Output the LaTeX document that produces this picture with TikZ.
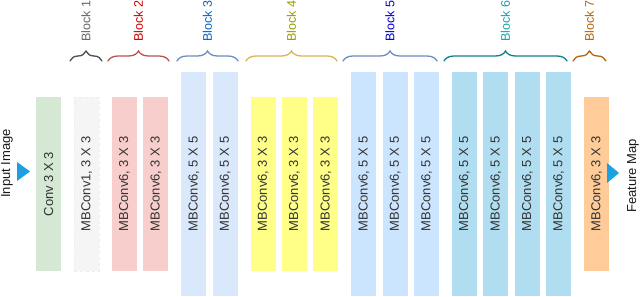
\documentclass[tikz,border=0pt]{standalone}
\usepackage{fontspec}
\setmainfont{Liberation Sans}
\usepackage{tikz}
\usetikzlibrary{positioning,decorations.pathreplacing}
\usepackage{xcolor}
\definecolor{convfill}{HTML}{D5E8D4}
\definecolor{bonefill}{HTML}{F5F5F5}
\definecolor{boneline}{HTML}{EDEDED}
\definecolor{btwofill}{HTML}{F8CECC}
\definecolor{bthreefill}{HTML}{DAE8FC}
\definecolor{bfourfill}{HTML}{FFFF88}
\definecolor{bfivefill}{HTML}{CCE5FF}
\definecolor{bsixfill}{HTML}{B1DDF0}
\definecolor{bsevenfill}{HTML}{FFCC99}
\definecolor{layertext}{HTML}{333333}
\definecolor{flowblue}{HTML}{1BA1E2}
\newcommand{\vlabel}[1]{\rotatebox{90}{#1}}

\begin{document}
\begin{tikzpicture}[
x=1pt,y=-1pt,
font=\fontsize{13pt}{15pt}\selectfont,
layer/.style={
  minimum width=25pt,
  minimum height=174pt,
  inner sep=0pt,
  text=layertext
},
talllayer/.style={layer,minimum height=224pt},
brace/.style={decorate,decoration={brace,amplitude=10pt},line width=1.3pt,line cap=round},
blocklabel/.style={midway,yshift=18.5pt,rotate=90,anchor=west,inner sep=0pt,
  font=\fontsize{12.5pt}{14pt}\selectfont},
flow/.style={fill=flowblue}
]
\useasboundingbox (0,0) rectangle (640,297);

% layers, left to right
\node[layer,fill=convfill,anchor=west] (conv) at (36,184) {\vlabel{Conv 3 X 3}};
\node[layer,fill=bonefill,draw=boneline,dashed,right=12.5pt of conv] (b1a) {\vlabel{MBConv1, 3 X 3}};
\node[layer,fill=btwofill,right=12.5pt of b1a] (b2a) {\vlabel{MBConv6, 3 X 3}};
\node[layer,fill=btwofill,right=6pt of b2a] (b2b) {\vlabel{MBConv6, 3 X 3}};
\node[talllayer,fill=bthreefill,right=12.5pt of b2b] (b3a) {\vlabel{MBConv6, 5 X 5}};
\node[talllayer,fill=bthreefill,right=6pt of b3a] (b3b) {\vlabel{MBConv6, 5 X 5}};
\node[layer,fill=bfourfill,right=12.5pt of b3b] (b4a) {\vlabel{MBConv6, 3 X 3}};
\node[layer,fill=bfourfill,right=6pt of b4a] (b4b) {\vlabel{MBConv6, 3 X 3}};
\node[layer,fill=bfourfill,right=6pt of b4b] (b4c) {\vlabel{MBConv6, 3 X 3}};
\node[talllayer,fill=bfivefill,right=12.5pt of b4c] (b5a) {\vlabel{MBConv6, 5 X 5}};
\node[talllayer,fill=bfivefill,right=6pt of b5a] (b5b) {\vlabel{MBConv6, 5 X 5}};
\node[talllayer,fill=bfivefill,right=6pt of b5b] (b5c) {\vlabel{MBConv6, 5 X 5}};
\node[talllayer,fill=bsixfill,right=12.5pt of b5c] (b6a) {\vlabel{MBConv6, 5 X 5}};
\node[talllayer,fill=bsixfill,right=6pt of b6a] (b6b) {\vlabel{MBConv6, 5 X 5}};
\node[talllayer,fill=bsixfill,right=6pt of b6b] (b6c) {\vlabel{MBConv6, 5 X 5}};
\node[talllayer,fill=bsixfill,right=6pt of b6c] (b6d) {\vlabel{MBConv6, 5 X 5}};
\node[layer,fill=bsevenfill,right=12.5pt of b6d] (b7a) {\vlabel{MBConv6, 3 X 3}};

% input and output
\node[rotate=90,text=black!90] (input) at (7,163.5) {Input Image};
\node[rotate=90,text=black!90] (output) at (633,176) {Feature Map};
\fill[flow] (17,162) -- (30,171.5) -- (17,181) -- cycle;
\fill[flow] (607,163) -- (619,173) -- (607,183) -- cycle;

% block braces
\draw[brace,draw={rgb,255:red,77;green,77;blue,77}] (70,61) --
  node[blocklabel,text={rgb,255:red,102;green,102;blue,102}] {Block 1} (102,61);
\draw[brace,draw={rgb,255:red,184;green,84;blue,80}] (108,61) --
  node[blocklabel,text={rgb,255:red,204;green,0;blue,0}] {Block 2} (169,61);
\draw[brace,draw={rgb,255:red,108;green,142;blue,191}] (177,61) --
  node[blocklabel,text={rgb,255:red,0;green,102;blue,204}] {Block 3} (238,61);
\draw[brace,draw={rgb,255:red,214;green,182;blue,86}] (246,61) --
  node[blocklabel,text={rgb,255:red,153;green,153;blue,0}] {Block 4} (337,61);
\draw[brace,draw={rgb,255:red,108;green,142;blue,191}] (343,61) --
  node[blocklabel,text={rgb,255:red,0;green,0;blue,204}] {Block 5} (437,61);
\draw[brace,draw={rgb,255:red,14;green,128;blue,136}] (444,61) --
  node[blocklabel,text={rgb,255:red,23;green,162;blue,176}] {Block 6} (567,61);
\draw[brace,draw={rgb,255:red,180;green,101;blue,4}] (573,61) --
  node[blocklabel,text={rgb,255:red,180;green,101;blue,4}] {Block 7} (606,61);
\end{tikzpicture}
\end{document}
